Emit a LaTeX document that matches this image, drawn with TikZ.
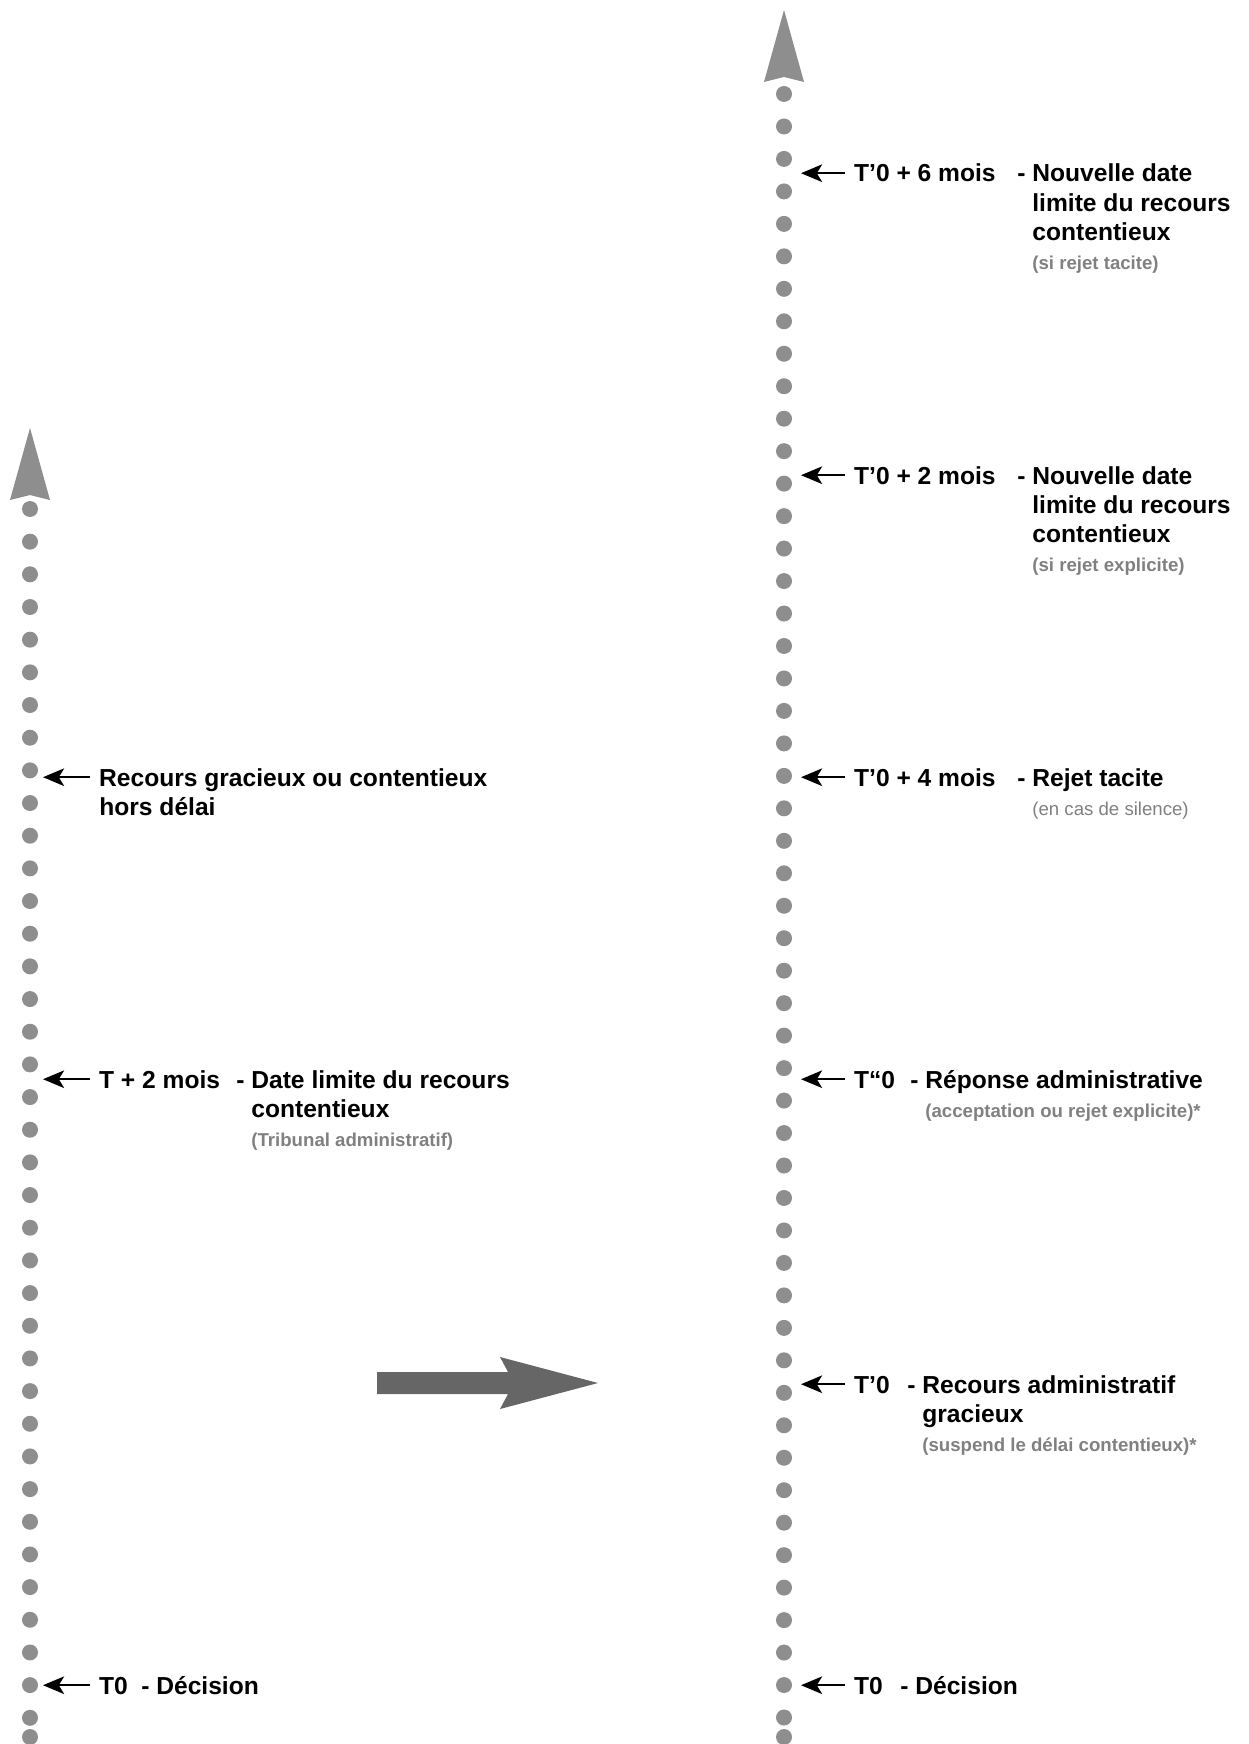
\documentclass[tikz,border=0pt]{standalone}
\usepackage{fontspec}
\setmainfont{Liberation Sans}
\usetikzlibrary{arrows.meta}

\definecolor{dotgray}{RGB}{142,142,142}
\definecolor{notegray}{RGB}{128,128,128}
\definecolor{bigarrow}{RGB}{102,102,102}

\newcommand{\mainsize}{\fontsize{14}{16.6}\selectfont\bfseries}
\newcommand{\notesize}{\fontsize{10.6}{16.6}\selectfont}
\newcommand{\note}[1]{{\notesize\color{notegray}#1}}
\newcommand{\gap}{\phantom{-\ }}
\newcommand{\lines}[1]{\begin{tabular}[t]{@{}l@{}}#1\end{tabular}}

\tikzset{
  when/.style={anchor=base west, inner xsep=5pt, inner ysep=0pt, text height=10pt, text depth=0pt, font=\mainsize},
  what/.style={anchor=base west, inner sep=0pt, font=\mainsize},
  pointer/.style={-{Stealth[length=12pt,width=10pt,inset=3pt]}, line width=1.3pt},
}

\begin{document}
\begin{tikzpicture}
    \useasboundingbox (0,0) rectangle (24.96,-34.88);

    % left time line
    \foreach \i in {0,...,37}
        \fill[dotgray] (0.6,-10.18-0.6534*\i) circle (0.16);
    \fill[dotgray] (0.6,-34.74) circle (0.16);
    \fill[dotgray] (0.6,-8.56) -- (0.2,-10.0) -- (0.6,-9.9) -- (1.0,-10.0) -- cycle;

    % right time line
    \foreach \i in {0,...,50}
        \fill[dotgray] (15.68,-1.88-0.6494*\i) circle (0.16);
    \fill[dotgray] (15.68,-34.74) circle (0.16);
    \fill[dotgray] (15.68,-0.2) -- (15.28,-1.64) -- (15.68,-1.54) -- (16.08,-1.64) -- cycle;

    % big arrow
    \fill[bigarrow] (7.54,-27.44) -- (10.16,-27.44) -- (10.0,-27.14) -- (11.96,-27.66)
        -- (10.0,-28.18) -- (10.16,-27.88) -- (7.54,-27.88) -- cycle;

    \coordinate (rL) at (0.86,0);
    \coordinate (rR) at (16.02,0);

    % left labels
    \node[when] (late) at (1.8,-15.72) {Recours gracieux ou contentieux};
    \node[what] (lateb) at (1.98,-16.3) {hors délai};
    \node[when] (tdeux) at (1.8,-21.76) {T + 2 mois};
    \node[what] (tdeuxb) at (4.72,-21.76) {\lines{- Date limite du recours\\\gap contentieux\\\gap\note{(Tribunal administratif)}}};
    \node[when] (dec) at (1.8,-33.88) {T0};
    \node[what] (decb) at (2.82,-33.88) {- Décision};

    % right labels
    \node[when] (rsix) at (16.9,-3.64) {T’0 + 6 mois};
    \node[what] (rsixb) at (20.34,-3.64) {\lines{- Nouvelle date\\\gap limite du recours\\\gap contentieux\\\gap\note{(si rejet tacite)}}};
    \node[when] (rdeux) at (16.9,-9.68) {T’0 + 2 mois};
    \node[what] (rdeuxb) at (20.34,-9.68) {\lines{- Nouvelle date\\\gap limite du recours\\\gap contentieux\\\gap\note{(si rejet explicite)}}};
    \node[when] (rquatre) at (16.9,-15.72) {T’0 + 4 mois};
    \node[what] (rquatreb) at (20.34,-15.72) {\lines{- Rejet tacite\\\gap\note{\mdseries (en cas de silence)}}};
    \node[when] (rep) at (16.9,-21.76) {T“0};
    \node[what] (repb) at (18.2,-21.76) {\lines{- Réponse administrative\\\gap\note{(acceptation ou rejet explicite)*}}};
    \node[when] (grac) at (16.9,-27.86) {T’0};
    \node[what] (gracb) at (18.14,-27.86) {\lines{- Recours administratif\\\gap gracieux\\\gap\note{(suspend le délai contentieux)*}}};
    \node[when] (rdec) at (16.9,-33.88) {T0};
    \node[what] (rdecb) at (18.0,-33.88) {- Décision};

    \draw[pointer] (late.west) -- (late.west -| rL);
    \draw[pointer] (tdeux.west) -- (tdeux.west -| rL);
    \draw[pointer] (dec.west) -- (dec.west -| rL);
    \draw[pointer] (rsix.west) -- (rsix.west -| rR);
    \draw[pointer] (rdeux.west) -- (rdeux.west -| rR);
    \draw[pointer] (rquatre.west) -- (rquatre.west -| rR);
    \draw[pointer] (rep.west) -- (rep.west -| rR);
    \draw[pointer] (grac.west) -- (grac.west -| rR);
    \draw[pointer] (rdec.west) -- (rdec.west -| rR);
\end{tikzpicture}
\end{document}
